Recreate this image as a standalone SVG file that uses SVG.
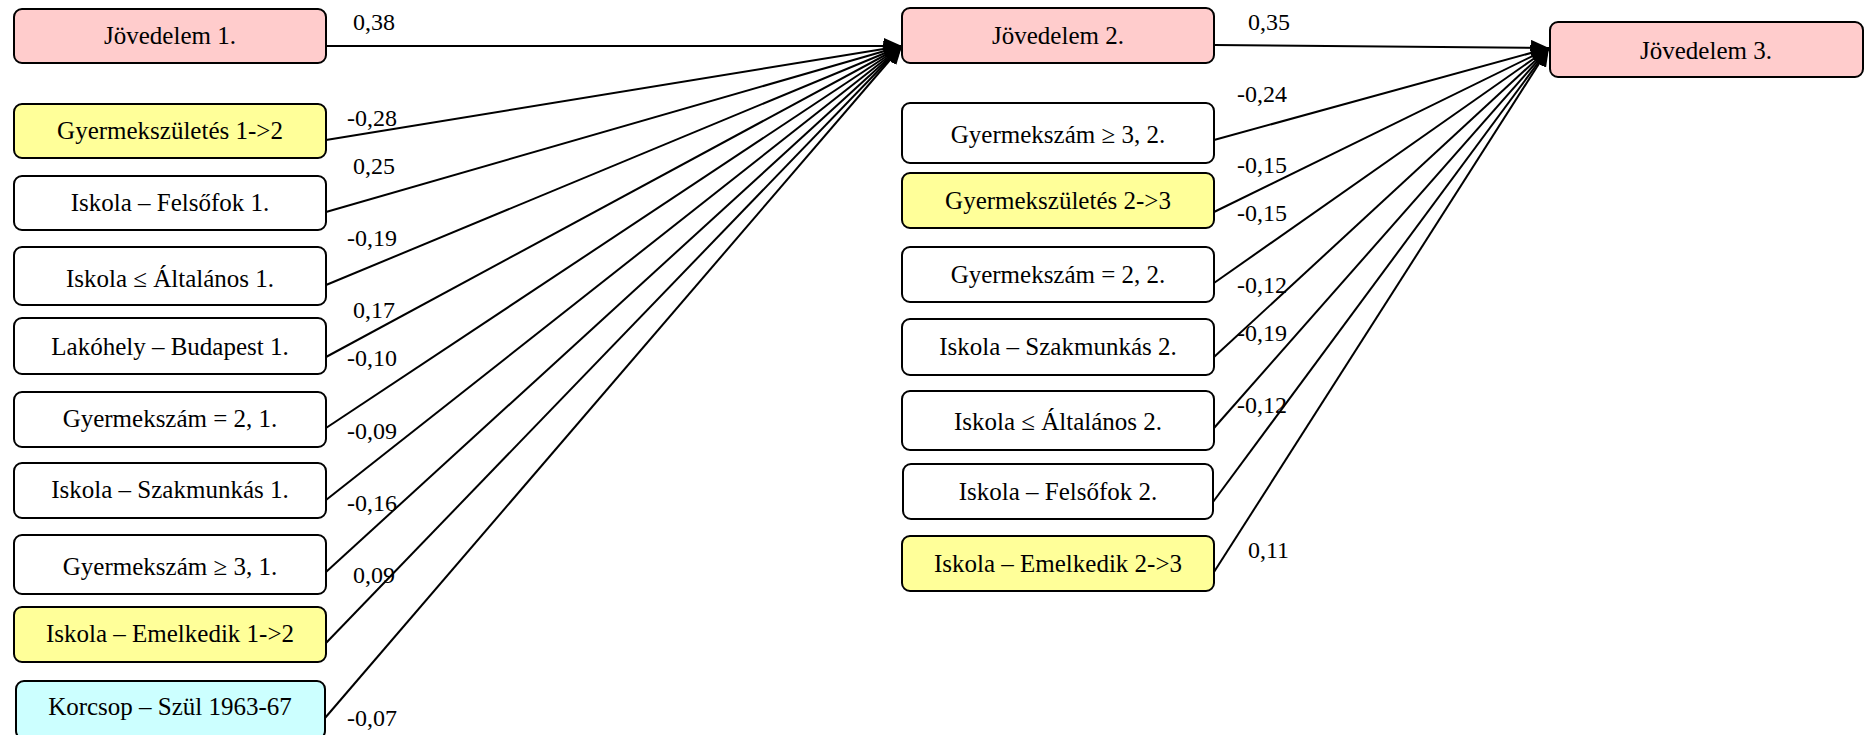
<svg xmlns="http://www.w3.org/2000/svg" width="1867" height="735" viewBox="0 0 1867 735">
  <defs>
    <marker id="arrow" viewBox="0 0 18 16" refX="18" refY="8" markerWidth="18" markerHeight="16" markerUnits="userSpaceOnUse" orient="auto">
      <path d="M0,0 L18,8 L0,16 z" fill="#000"/>
    </marker>
    <style>
      .box { stroke: #000; stroke-width: 2; }
      .pink { fill: #FFCCCC; }
      .yellow { fill: #FFFF99; }
      .white { fill: #FFFFFF; }
      .cyan { fill: #CCFFFF; }
      .lbl { font-size: 25px; fill: #000; text-anchor: middle; }
      .coef { font-size: 24px; fill: #000; }
      .edge { stroke: #000; stroke-width: 2; fill: none; marker-end: url(#arrow); }
    </style>
  </defs>

  <rect width="1867" height="735" fill="#FFFFFF"/>

  <!-- connectors -->
  <g id="connectors">
    <line class="edge" x1="326" y1="46" x2="902" y2="46"/>
    <line class="edge" x1="326" y1="140" x2="902" y2="46"/>
    <line class="edge" x1="326" y1="212" x2="902" y2="46"/>
    <line class="edge" x1="326" y1="285" x2="902" y2="46"/>
    <line class="edge" x1="326" y1="357" x2="902" y2="46"/>
    <line class="edge" x1="326" y1="428" x2="902" y2="46"/>
    <line class="edge" x1="326" y1="500" x2="902" y2="46"/>
    <line class="edge" x1="326" y1="572" x2="902" y2="46"/>
    <line class="edge" x1="326" y1="643" x2="902" y2="46"/>
    <line class="edge" x1="325" y1="718" x2="902" y2="46"/>

    <line class="edge" x1="1214" y1="45" x2="1549" y2="48"/>
    <line class="edge" x1="1214" y1="140" x2="1549" y2="48"/>
    <line class="edge" x1="1214" y1="212" x2="1549" y2="48"/>
    <line class="edge" x1="1214" y1="283" x2="1549" y2="48"/>
    <line class="edge" x1="1214" y1="357" x2="1549" y2="48"/>
    <line class="edge" x1="1214" y1="428" x2="1549" y2="48"/>
    <line class="edge" x1="1213" y1="502" x2="1549" y2="48"/>
    <line class="edge" x1="1214" y1="572" x2="1549" y2="48"/>
  </g>

  <!-- path coefficients -->
  <g id="coefficients" font-family="'Liberation Serif', 'DejaVu Serif', serif">
    <text class="coef" x="353" y="30">0,38</text>
    <text class="coef" x="347" y="126">-0,28</text>
    <text class="coef" x="353" y="174">0,25</text>
    <text class="coef" x="347" y="246">-0,19</text>
    <text class="coef" x="353" y="318">0,17</text>
    <text class="coef" x="347" y="366">-0,10</text>
    <text class="coef" x="347" y="439">-0,09</text>
    <text class="coef" x="347" y="511">-0,16</text>
    <text class="coef" x="353" y="583">0,09</text>
    <text class="coef" x="347" y="726">-0,07</text>

    <text class="coef" x="1248" y="30">0,35</text>
    <text class="coef" x="1237" y="102">-0,24</text>
    <text class="coef" x="1237" y="173">-0,15</text>
    <text class="coef" x="1237" y="221">-0,15</text>
    <text class="coef" x="1237" y="293">-0,12</text>
    <text class="coef" x="1237" y="341">-0,19</text>
    <text class="coef" x="1237" y="413">-0,12</text>
    <text class="coef" x="1248" y="558">0,11</text>
  </g>

  <g id="nodes" font-family="'Liberation Serif', 'DejaVu Serif', serif">
    <!-- wave 1 -->
    <g id="jovedelem1"><rect class="box pink" x="14" y="9" width="312" height="54" rx="8"/><text class="lbl" x="170" y="44">Jövedelem 1.</text></g>
    <g id="gyermekszuletes12"><rect class="box yellow" x="14" y="104" width="312" height="54" rx="8"/><text class="lbl" x="170" y="139">Gyermekszületés 1-&gt;2</text></g>
    <g id="felsofok1"><rect class="box white" x="14" y="176" width="312" height="54" rx="8"/><text class="lbl" x="170" y="211">Iskola – Felsőfok 1.</text></g>
    <g id="altalanos1"><rect class="box white" x="14" y="247" width="312" height="58" rx="8"/><text class="lbl" x="170" y="287">Iskola ≤ Általános 1.</text></g>
    <g id="budapest1"><rect class="box white" x="14" y="318" width="312" height="56" rx="8"/><text class="lbl" x="170" y="355">Lakóhely – Budapest 1.</text></g>
    <g id="gyermekszam2_1"><rect class="box white" x="14" y="392" width="312" height="55" rx="8"/><text class="lbl" x="170" y="427">Gyermekszám = 2, 1.</text></g>
    <g id="szakmunkas1"><rect class="box white" x="14" y="463" width="312" height="55" rx="8"/><text class="lbl" x="170" y="498">Iskola – Szakmunkás 1.</text></g>
    <g id="gyermekszam3_1"><rect class="box white" x="14" y="535" width="312" height="59" rx="8"/><text class="lbl" x="170" y="575">Gyermekszám ≥ 3, 1.</text></g>
    <g id="emelkedik12"><rect class="box yellow" x="14" y="607" width="312" height="55" rx="8"/><text class="lbl" x="170" y="642">Iskola – Emelkedik 1-&gt;2</text></g>
    <g id="korcsop"><rect class="box cyan" x="16" y="681" width="309" height="58" rx="8"/><text class="lbl" x="170" y="715">Korcsop – Szül 1963-67</text></g>

    <!-- wave 2 -->
    <g id="jovedelem2"><rect class="box pink" x="902" y="8" width="312" height="55" rx="8"/><text class="lbl" x="1058" y="44">Jövedelem 2.</text></g>
    <g id="gyermekszam3_2"><rect class="box white" x="902" y="103" width="312" height="60" rx="8"/><text class="lbl" x="1058" y="143">Gyermekszám ≥ 3, 2.</text></g>
    <g id="gyermekszuletes23"><rect class="box yellow" x="902" y="173" width="312" height="55" rx="8"/><text class="lbl" x="1058" y="209">Gyermekszületés 2-&gt;3</text></g>
    <g id="gyermekszam2_2"><rect class="box white" x="902" y="247" width="312" height="55" rx="8"/><text class="lbl" x="1058" y="283">Gyermekszám = 2, 2.</text></g>
    <g id="szakmunkas2"><rect class="box white" x="902" y="319" width="312" height="56" rx="8"/><text class="lbl" x="1058" y="355">Iskola – Szakmunkás 2.</text></g>
    <g id="altalanos2"><rect class="box white" x="902" y="391" width="312" height="59" rx="8"/><text class="lbl" x="1058" y="430">Iskola ≤ Általános 2.</text></g>
    <g id="felsofok2"><rect class="box white" x="903" y="464" width="310" height="55" rx="8"/><text class="lbl" x="1058" y="500">Iskola – Felsőfok 2.</text></g>
    <g id="emelkedik23"><rect class="box yellow" x="902" y="536" width="312" height="55" rx="8"/><text class="lbl" x="1058" y="572">Iskola – Emelkedik 2-&gt;3</text></g>

    <!-- wave 3 -->
    <g id="jovedelem3"><rect class="box pink" x="1550" y="22" width="313" height="55" rx="8"/><text class="lbl" x="1706" y="59">Jövedelem 3.</text></g>
  </g>
</svg>
